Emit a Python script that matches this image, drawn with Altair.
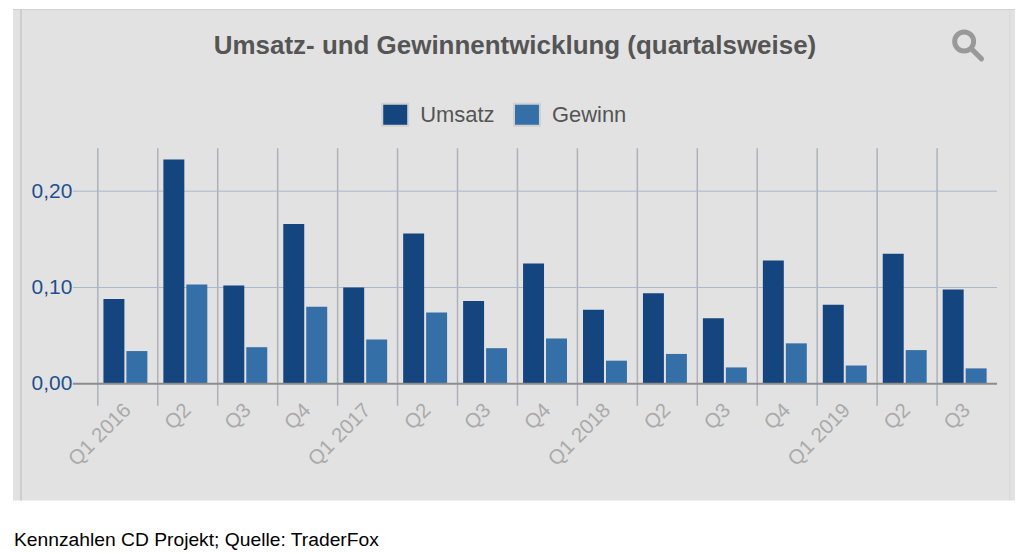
import altair as alt
import pandas as pd

quarters = ["Q1 2016", "Q2 2016", "Q3 2016", "Q4 2016", "Q1 2017", "Q2 2017", "Q3 2017", "Q4 2017",
            "Q1 2018", "Q2 2018", "Q3 2018", "Q4 2018", "Q1 2019", "Q2 2019", "Q3 2019"]
umsatz = [.088, .233, .102, .166, .100, .156, .086, .125, .077, .094, .068, .128, .082, .135, .098]
gewinn = [.034, .103, .038, .080, .046, .074, .037, .047, .024, .031, .017, .042, .019, .035, .016]
series = ["Umsatz", "Gewinn"]
colors = ["#15457f", "#346fa8"]
y_ticks = [0.0, 0.1, 0.2]

bars_df = pd.DataFrame(
    [{"q": q, "s": "Umsatz", "v": v} for q, v in zip(quarters, umsatz)]
    + [{"q": q, "s": "Gewinn", "v": v} for q, v in zip(quarters, gewinn)]
)
q_df = pd.DataFrame({"q": quarters})
one = alt.Data(values=[{"a": 1}])

FONT = "Liberation Sans"
W, H = 901, 236

x_scale = alt.Scale(domain=quarters, paddingInner=0, paddingOuter=0)
y_scale = alt.Scale(domain=[0, 0.2446], nice=False)

panel = alt.Chart(one).mark_rect(color="#e2e2e2").encode(
    x=alt.value(-85), x2=alt.value(919), y=alt.value(-139), y2=alt.value(353))
panel_top = alt.Chart(one).mark_rule(color="#d2d2d2", strokeWidth=1).encode(
    x=alt.value(-85), x2=alt.value(919), y=alt.value(-139))
panel_left = alt.Chart(one).mark_rule(color="#cecece", strokeWidth=2).encode(
    x=alt.value(-77), y=alt.value(-139), y2=alt.value(353))
panel_right = alt.Chart(one).mark_rule(color="#d8d8d8", strokeWidth=1).encode(
    x=alt.value(914), y=alt.value(-139), y2=alt.value(353))

vgrid = alt.Chart(q_df).mark_rule(color="#adb2ba", strokeWidth=1.5).encode(
    x=alt.X("q:N", bandPosition=0, scale=x_scale, title=None),
    y=alt.value(0), y2=alt.value(258))

hgrid = alt.Chart(pd.DataFrame({"t": y_ticks[1:]})).mark_rule(color="#aab8cc", strokeWidth=1).encode(
    y=alt.Y("t:Q", scale=y_scale, title=None),
    x=alt.value(-25), x2=alt.value(W))

bars = alt.Chart(bars_df).mark_bar(width=21).encode(
    x=alt.X("q:N", scale=x_scale, sort=quarters, title=None,
            axis=alt.Axis(ticks=False, domain=False, grid=False, labelAngle=315, labelAlign="right",
                          labelBaseline="middle", labelColor="#aaaaaa", labelFont=FONT, labelFontSize=20.5,
                          labelPadding=23, labelOverlap=False, zindex=1,
                          labelExpr="indexof(datum.label,'Q1')==0 ? datum.label : slice(datum.label,0,2)")),
    xOffset=alt.XOffset("s:N", sort=series,
                        scale=alt.Scale(domain=series, paddingInner=0.087, paddingOuter=0.348, align=0.35)),
    y=alt.Y("v:Q", scale=y_scale, title=None,
            axis=alt.Axis(values=y_ticks, ticks=False, domain=False, grid=False, labelColor="#1f5090",
                          labelFont=FONT, labelFontSize=21, labelPadding=26, zindex=1,
                          labelExpr="replace(format(datum.value,'.2f'),'.',',')")),
    color=alt.Color("s:N", sort=series, scale=alt.Scale(domain=series, range=colors), title=None,
                    legend=alt.Legend(orient="none", legendX=284, legendY=-48, direction="horizontal",
                                      columns=2, columnPadding=15, labelFont=FONT, labelFontSize=22,
                                      labelColor="#555555", symbolType="M-1,-0.85H1V0.85H-1Z", symbolSize=676,
                                      symbolStrokeColor="#d0d0d0", symbolStrokeWidth=2, symbolOpacity=1,
                                      labelOffset=11)),
)

zero = alt.Chart(pd.DataFrame({"t": y_ticks[:1]})).mark_rule(color="#8c8c8c", strokeWidth=2).encode(
    y=alt.Y("t:Q", scale=y_scale, title=None),
    x=alt.value(-25), x2=alt.value(W))

icon = alt.Chart(one).mark_point(
    shape="M-0.25,-0.25m-0.6,0a0.6,0.6 0 1,0 1.2,0a0.6,0.6 0 1,0 -1.2,0M0.2,0.2L0.85,0.85",
    size=1000, filled=False, color="#999999", strokeWidth=5, opacity=1, strokeCap="round",
).encode(x=alt.value(872), y=alt.value(-103))

title = alt.Chart(alt.Data(values=[{"c": "Umsatz- und Gewinnentwicklung (quartalsweise)"}])).mark_text(
    align="center", baseline="middle", font=FONT, fontSize=26, fontWeight="bold", color="#555555",
).encode(text="c:N", x=alt.value(418), y=alt.value(-102))

caption = alt.Chart(alt.Data(values=[{"c": "Kennzahlen CD Projekt; Quelle: TraderFox"}])).mark_text(
    align="left", baseline="middle", font=FONT, fontSize=19.3, color="#000000",
).encode(text="c:N", x=alt.value(-84), y=alt.value(393))

chart = alt.layer(panel, panel_top, panel_left, panel_right, vgrid, hgrid, bars, zero, icon, title, caption).properties(
    width=W, height=H, background="white",
    padding={"left": 4, "top": 0, "right": 0, "bottom": 0},
).configure_view(stroke=None)

chart.save("out.html", embed_options={"renderer": "svg", "actions": False})
